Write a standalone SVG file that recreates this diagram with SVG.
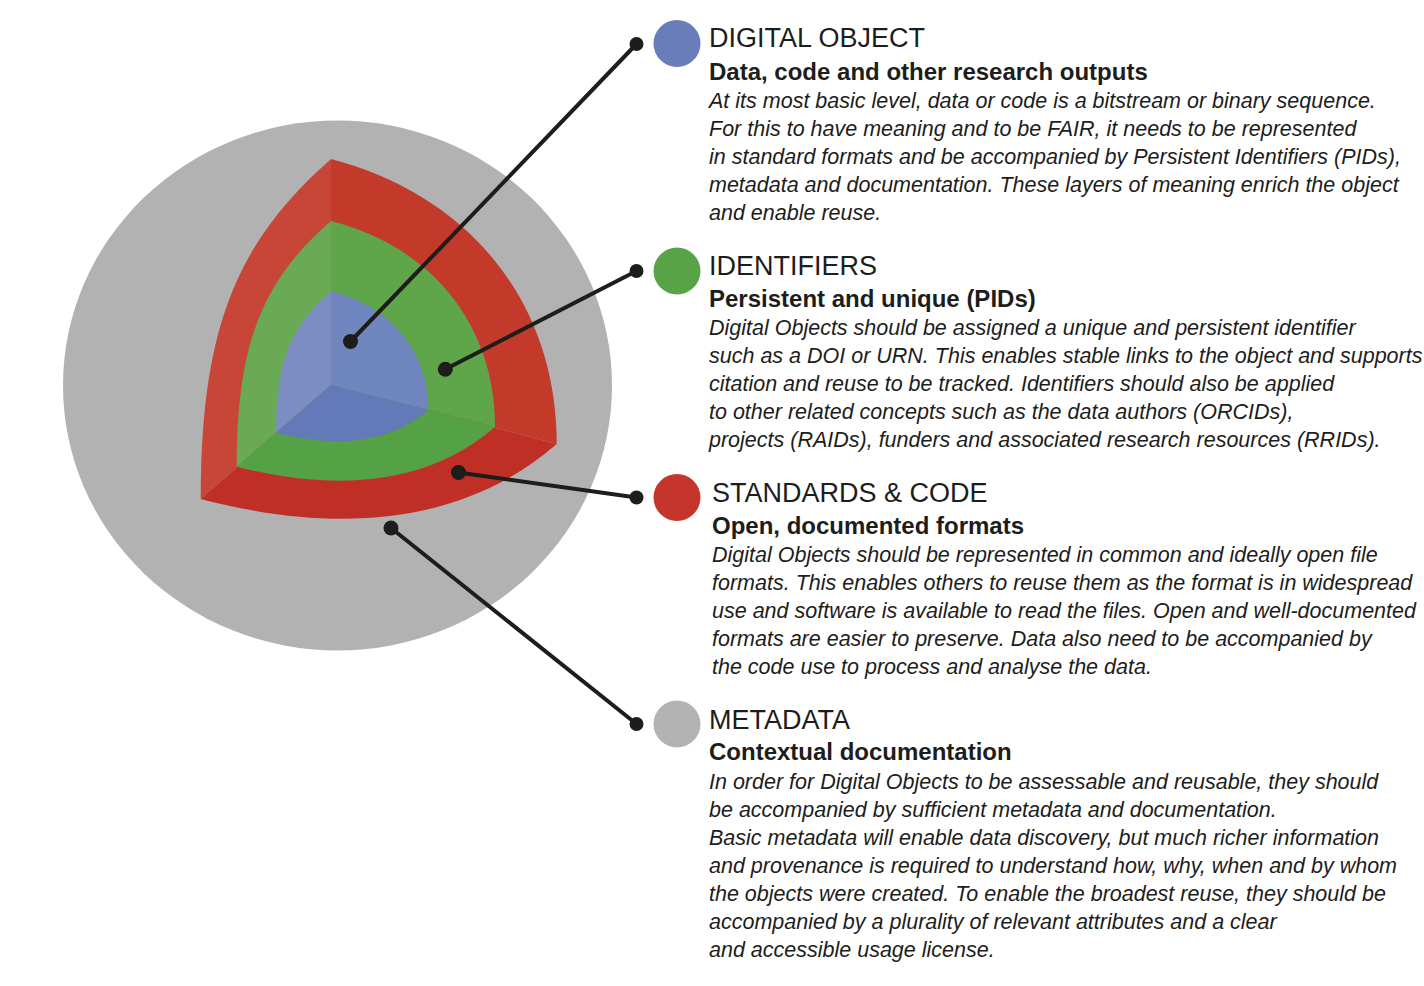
<svg xmlns="http://www.w3.org/2000/svg" width="1424" height="986" viewBox="0 0 1424 986">
<style>
.title{font-family:"Liberation Sans",Arial,sans-serif;font-size:27px;fill:#1d1d1b}
.sub{font-family:"Liberation Sans",Arial,sans-serif;font-size:24px;font-weight:bold;fill:#1d1d1b}
.body{font-family:"Liberation Sans",Arial,sans-serif;font-size:21.5px;font-style:italic;fill:#1d1d1b}
.conn line{stroke:#1d1d1b;stroke-width:4;stroke-linecap:round}
.conn circle{fill:#1d1d1b}
</style>
<rect width="1424" height="986" fill="#ffffff"/>
<g id="sphere">
  <ellipse id="metadata-layer" cx="337.5" cy="385.5" rx="274.5" ry="265" fill="#b2b2b2"/>
  <g id="standards-layer">
    <path d="M331,385 L331,159 C234.6,243.4 200.7,331.8 200.7,499 Z" fill="#c84638"/>
    <path d="M331,385 L331,159 C470.9,195.6 556.7,303.9 556.7,444 Z" fill="#c33a2b"/>
    <path d="M331,385 L200.7,499 C349.7,537.9 470.7,519.2 556.7,444 Z" fill="#bf2f26"/>
  </g>
  <g id="identifiers-layer">
    <path d="M331,385 L331,221 C261.2,281.5 236.7,345.3 236.7,466.7 Z" fill="#6aaa55"/>
    <path d="M331,385 L331,221 C432.7,247 495,325.3 495,427 Z" fill="#5fa64b"/>
    <path d="M331,385 L236.7,466.7 C344.9,494.4 432.8,480.9 495,427 Z" fill="#55a146"/>
  </g>
  <g id="object-layer">
    <path d="M331,385 L331,291 C290.3,326.3 276,363.1 276,432.7 Z" fill="#7b8dc2"/>
    <path d="M331,385 L331,291 C391.3,306.5 428.3,351.7 428.3,410 Z" fill="#6f86be"/>
    <path d="M331,385 L276,432.7 C340.2,449.2 392,441.5 428.3,410 Z" fill="#6479b7"/>
  </g>
</g>
<g id="connectors" class="conn">
  <line x1="350.5" y1="341.5" x2="636.5" y2="44"/>
  <circle cx="350.5" cy="341.5" r="7.5"/><circle cx="636.5" cy="44" r="7"/>
  <line x1="445.3" y1="369.3" x2="636.5" y2="271"/>
  <circle cx="445.3" cy="369.3" r="7.5"/><circle cx="636.5" cy="271" r="7"/>
  <line x1="458.5" y1="472.5" x2="636.5" y2="497.5"/>
  <circle cx="458.5" cy="472.5" r="7.5"/><circle cx="636.5" cy="497.5" r="7"/>
  <line x1="391" y1="528" x2="636.5" y2="724"/>
  <circle cx="391" cy="528" r="7.5"/><circle cx="636.5" cy="724" r="7"/>
</g>
<g id="digital-object">
  <circle cx="677" cy="43.5" r="23.5" fill="#6a7dbb"/>
  <text class="title" x="709" y="47">DIGITAL OBJECT</text>
  <text class="sub" x="709" y="79.5">Data, code and other research outputs</text>
  <text class="body" x="709" y="108">At its most basic level, data or code is a bitstream or binary sequence.</text>
  <text class="body" x="709" y="136">For this to have meaning and to be FAIR, it needs to be represented</text>
  <text class="body" x="709" y="164">in standard formats and be accompanied by Persistent Identifiers (PIDs),</text>
  <text class="body" x="709" y="192">metadata and documentation. These layers of meaning enrich the object</text>
  <text class="body" x="709" y="220">and enable reuse.</text>
</g>
<g id="identifiers">
  <circle cx="677" cy="271" r="23.5" fill="#58a247"/>
  <text class="title" x="709" y="274.5">IDENTIFIERS</text>
  <text class="sub" x="709" y="306.5">Persistent and unique (PIDs)</text>
  <text class="body" x="709" y="335">Digital Objects should be assigned a unique and persistent identifier</text>
  <text class="body" x="709" y="363">such as a DOI or URN. This enables stable links to the object and supports</text>
  <text class="body" x="709" y="391">citation and reuse to be tracked. Identifiers should also be applied</text>
  <text class="body" x="709" y="419">to other related concepts such as the data authors (ORCIDs),</text>
  <text class="body" x="709" y="447">projects (RAIDs), funders and associated research resources (RRIDs).</text>
</g>
<g id="standards-code">
  <circle cx="677" cy="497.5" r="23.5" fill="#c6352b"/>
  <text class="title" x="712" y="501.5">STANDARDS &amp; CODE</text>
  <text class="sub" x="712" y="533.5">Open, documented formats</text>
  <text class="body" x="712" y="562">Digital Objects should be represented in common and ideally open file</text>
  <text class="body" x="712" y="590">formats. This enables others to reuse them as the format is in widespread</text>
  <text class="body" x="712" y="618">use and software is available to read the files. Open and well-documented</text>
  <text class="body" x="712" y="646">formats are easier to preserve. Data also need to be accompanied by</text>
  <text class="body" x="712" y="674">the code use to process and analyse the data.</text>
</g>
<g id="metadata">
  <circle cx="677" cy="724" r="23.5" fill="#b3b3b3"/>
  <text class="title" x="709" y="728.5">METADATA</text>
  <text class="sub" x="709" y="760">Contextual documentation</text>
  <text class="body" x="709" y="788.5">In order for Digital Objects to be assessable and reusable, they should</text>
  <text class="body" x="709" y="816.5">be accompanied by sufficient metadata and documentation.</text>
  <text class="body" x="709" y="844.5">Basic metadata will enable data discovery, but much richer information</text>
  <text class="body" x="709" y="872.5">and provenance is required to understand how, why, when and by whom</text>
  <text class="body" x="709" y="900.5">the objects were created. To enable the broadest reuse, they should be</text>
  <text class="body" x="709" y="928.5">accompanied by a plurality of relevant attributes and a clear</text>
  <text class="body" x="709" y="956.5">and accessible usage license.</text>
</g>
</svg>
